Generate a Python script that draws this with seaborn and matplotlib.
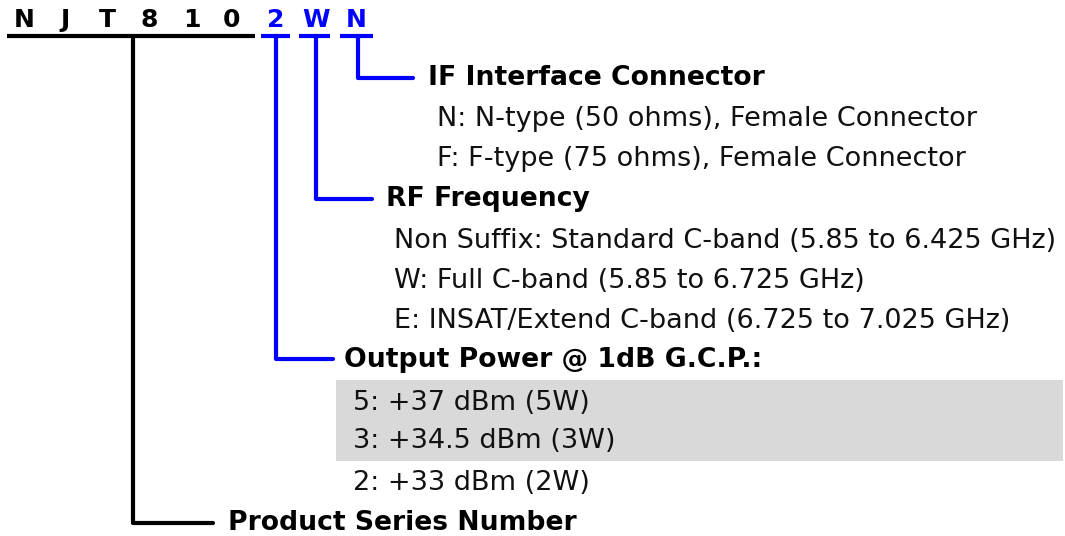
import matplotlib
matplotlib.use("Agg")
import matplotlib.pyplot as plt
import seaborn as sns

sns.set_theme(style="white")
plt.rcParams['font.family'] = ['DejaVu Sans']

# --- data ---
prefix_chars = ["N", "J", "T", "8", "1", "0"]
option_chars = ["2", "W", "N"]
section_titles = ["IF Interface Connector", "RF Frequency",
                  "Output Power @ 1dB G.C.P.:", "Product Series Number"]
if_items = ["N: N-type (50 ohms), Female Connector",
            "F: F-type (75 ohms), Female Connector"]
rf_items = ["Non Suffix: Standard C-band (5.85 to 6.425 GHz)",
            "W: Full C-band (5.85 to 6.725 GHz)",
            "E: INSAT/Extend C-band (6.725 to 7.025 GHz)"]
power_items = ["5: +37 dBm (5W)", "3: +34.5 dBm (3W)", "2: +33 dBm (2W)"]

BLUE = "#0000ff"
BLACK = "#000000"
FS = 19.55
FSB = 19.2

fig = plt.figure(figsize=(10.65, 5.36), dpi=100)
ax = fig.add_axes([0, 0, 1, 1])
ax.set_xlim(0, 1065)
ax.set_ylim(536, 0)
ax.axis("off")

# header characters
prefix_x = [24, 65, 107, 149, 192, 232]
for ch, x in zip(prefix_chars, prefix_x):
    ax.text(x, 20, ch, ha="center", va="center", fontsize=18, fontweight="bold", color=BLACK)
option_x = [276, 316, 356]
for ch, x in zip(option_chars, option_x):
    ax.text(x, 20, ch, ha="center", va="center", fontsize=18, fontweight="bold", color=BLUE)

LW = 3
# underlines
ax.plot([7, 255], [36, 36], color=BLACK, lw=LW, solid_capstyle="butt")
for x0, x1 in [(261, 290), (299, 330), (340, 373)]:
    ax.plot([x0, x1], [36, 36], color=BLUE, lw=LW, solid_capstyle="butt")

# connectors
ax.plot([133, 133, 213], [36, 523, 523], color=BLACK, lw=LW)
ax.plot([276, 276, 333], [36, 359, 359], color=BLUE, lw=LW)
ax.plot([316, 316, 372], [36, 199, 199], color=BLUE, lw=LW)
ax.plot([358, 358, 413], [36, 78, 78], color=BLUE, lw=LW)

# section titles
title_pos = [(428, 78), (386, 199), (344, 360), (228, 523)]
for t, (x, y) in zip(section_titles, title_pos):
    ax.text(x, y, t, ha="left", va="center", fontsize=FSB, fontweight="bold", color=BLACK)

# gray box for highlighted power entries
ax.add_patch(plt.Rectangle((336, 380), 727, 81, facecolor="#d9d9d9", edgecolor="none", zorder=0))

for t, y in zip(if_items, [119, 159]):
    ax.text(437, y, t, ha="left", va="center", fontsize=FS, color="#111111")
for t, y in zip(rf_items, [241, 281, 321]):
    ax.text(394, y, t, ha="left", va="center", fontsize=FS, color="#111111")
for t, y in zip(power_items, [403, 441, 483]):
    ax.text(353, y, t, ha="left", va="center", fontsize=FS, color="#111111")

fig.savefig("out.png", dpi=100)
